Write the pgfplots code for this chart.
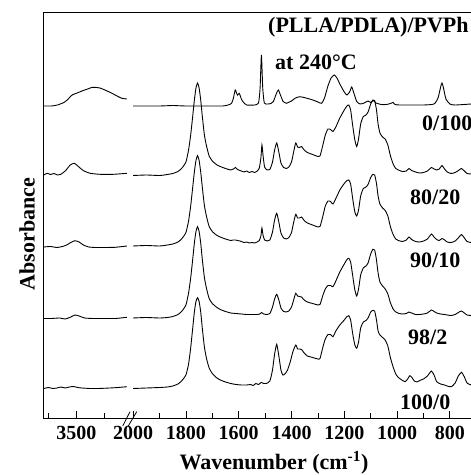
\documentclass[border=0pt]{standalone}
\usepackage{pgfplots}
\pgfplotsset{compat=1.18}
\usepackage{fontspec}
\setmainfont{Liberation Serif}
\begin{document}
\begin{tikzpicture}
\useasboundingbox (0pt,0pt) rectangle (471pt,475pt);
\pgfplotsset{
  spec/.style={black, line width=0.9pt, smooth, tension=0.35, mark=none},
  common/.style={scale only axis, anchor=south west, height=406pt,
    ymin=0, ymax=406, x dir=reverse, ytick=\empty, clip=false,
    tick align=inside, major tick length=7pt, minor tick length=5pt,
    every tick/.style={black, line width=0.8pt},
    axis line style={black, line width=0.8pt},
    xticklabel style={font=\fontsize{20}{24}\selectfont\bfseries, yshift=-5pt}}
}
% ---------- left panel ----------
\begin{axis}[common, at={(43pt,57pt)}, width=87.5pt, xmin=3305, xmax=3620,
  axis x line*=bottom, axis y line*=left,
  xtick={3500}, xticklabels={3500}, minor xtick={3600,3400}]
\addplot[spec] coordinates {(3618,312) (3590,312) (3568,313) (3545,315.5) (3533,318) (3515,323) (3497,325) (3480,327) (3462,328.7) (3445,330.5) (3432,330.7) (3415,330) (3403,328.7) (3385,326.5) (3367,324) (3350,321.5) (3336,319.7) (3318,319)};
\addplot[spec] coordinates {(3617,243) (3605,244.7) (3593,243.5) (3580,244.5) (3568,243) (3557,243.5) (3539,247.3) (3522,253) (3507,254.7) (3492,251.3) (3474,247.3) (3450,244.7) (3414,243.7) (3366,243.7) (3318,244.7)};
\addplot[spec] coordinates {(3617,171) (3593,171.5) (3570,170.5) (3550,171.5) (3535,173) (3520,175.5) (3505,177.3) (3490,176) (3475,173) (3455,171) (3430,170.5) (3400,170.5) (3360,170.7) (3318,172)};
\addplot[spec] coordinates {(3617,99.5) (3590,99.5) (3560,100) (3540,99) (3520,101) (3505,103) (3490,102) (3470,100) (3440,99.5) (3400,99.5) (3360,99.5) (3318,100.7)};
\addplot[spec] coordinates {(3617,29.5) (3600,30.5) (3585,29.5) (3570,30) (3555,31) (3540,30) (3525,31) (3510,31.5) (3495,30.5) (3480,30) (3450,29.5) (3420,29.5) (3380,30) (3350,30.5) (3318,31.3)};
\draw[black, line width=0.8pt] (rel axis cs:0,1) -- (rel axis cs:1,1);
\end{axis}
% ---------- right panel ----------
\begin{axis}[common, at={(130.5pt,57pt)}, width=340.5pt, xmin=720, xmax=2010,
  axis x line*=bottom, axis y line*=left, y axis line style={draw=none},
  xtick={2000,1800,1600,1400,1200,1000,800},
  xticklabels={2000,1800,1600,1400,1200,1000,800},
  minor xtick={1900,1700,1500,1300,1100,900}]
% 0/100
\addplot[spec] coordinates {(2000,312) (1900,312) (1850,312.5) (1800,312) (1700,312) (1660,312) (1640,313) (1627,314.7) (1620,320) (1613,328) (1605,323) (1598,324.7) (1590,319) (1583,316) (1570,313) (1540,313) (1525,315) (1519,330) (1514,363) (1509,330) (1503,315) (1490,314) (1478,314.5) (1469,316.3) (1458,324) (1450,328) (1442,323) (1432,316.5) (1425,315.3) (1419,314.7) (1400,317) (1385,320) (1368,321.3) (1345,320) (1319,318) (1300,316) (1286,314.7) (1275,320) (1262,332) (1250,340) (1238,343) (1228,340) (1215,333) (1200,326) (1190,323) (1180,326) (1172,331) (1165,326) (1153,316.5) (1140,314) (1125,315) (1110,317) (1100,315.5) (1090,317.5) (1080,315) (1060,313.5) (1040,313.5) (1025,314.5) (1015,315.5) (1008,313.5) (990,313) (950,313) (900,313) (860,314) (845,320) (835,331) (830,335) (825,331) (815,319) (800,314) (780,313) (720,314)};
% 80/20
\addplot[spec] coordinates {(2000,242.5) (1950,243) (1900,242.5) (1870,243.5) (1850,244.5) (1830,246.5) (1815,250) (1800,256) (1790,268) (1782,283) (1775,300) (1768,318) (1762,330) (1756,335) (1750,330) (1744,318) (1738,302) (1730,283) (1722,272) (1712,262) (1700,257) (1685,253.5) (1670,251.5) (1650,249.5) (1630,248) (1620,249) (1612,250.5) (1605,248.5) (1595,247.5) (1580,246) (1570,247) (1560,245.5) (1550,246.5) (1540,245.5) (1530,247) (1522,250) (1516,260) (1512,273) (1508,263) (1502,251) (1492,248) (1482,248.5) (1472,256) (1464,268) (1456,275) (1448,266) (1440,255) (1430,250.5) (1420,249.5) (1410,251) (1400,256) (1392,266) (1384,275) (1377,271) (1370,270.5) (1362,271.5) (1352,268) (1340,265.5) (1320,263.5) (1300,261.5) (1292,262) (1282,272) (1272,283) (1262,289) (1252,288.5) (1243,286.5) (1232,291) (1217,300) (1200,308) (1190,312) (1183,313) (1176,308) (1168,292) (1160,278) (1153,271.5) (1146,279) (1138,294) (1128,301.5) (1118,303) (1110,306) (1100,314) (1092,318) (1085,317.5) (1078,308) (1072,294) (1065,285) (1055,281) (1045,279) (1035,273) (1025,262) (1015,254) (1005,249.5) (995,248) (980,246.5) (965,247) (955,249.5) (945,247.5) (930,246) (915,245) (900,245.5) (885,247) (870,250.5) (860,249) (850,248) (840,249) (830,252.5) (820,249) (810,246) (795,244.5) (780,245.5) (765,248) (756,249.5) (745,247) (735,244.5) (720,244)};
% 90/10
\addplot[spec] coordinates {(2000,172) (1950,172.5) (1900,172) (1870,173) (1850,174) (1830,176) (1815,179.5) (1800,185.5) (1790,197) (1782,212) (1775,229) (1768,246) (1762,257.5) (1756,262.3) (1750,257.5) (1744,246) (1738,231) (1730,212.5) (1722,201.5) (1712,191.5) (1700,186.5) (1685,183) (1670,181) (1650,179) (1630,177.5) (1620,178) (1612,178) (1605,177.5) (1595,177) (1580,175.5) (1570,176) (1560,175) (1550,175.5) (1540,175) (1530,176) (1522,177.5) (1516,182) (1512,190) (1508,183) (1502,178) (1492,177) (1482,178) (1472,186) (1464,198) (1456,204.7) (1448,196) (1440,185) (1430,180) (1420,179) (1410,180.5) (1400,185.5) (1392,195.5) (1384,203.7) (1377,200) (1370,200) (1362,201) (1352,197.5) (1340,195) (1320,193) (1300,191) (1292,191.5) (1282,201) (1272,212) (1262,217) (1252,216.5) (1243,214) (1232,219.5) (1217,228) (1200,234.5) (1190,237.5) (1183,238) (1176,234) (1168,219) (1160,206) (1153,202) (1146,208) (1138,222) (1128,229.5) (1118,231) (1110,233.5) (1100,240.5) (1092,243.7) (1085,243) (1078,234.5) (1072,222) (1065,214) (1055,210) (1045,207.5) (1035,202) (1025,191) (1015,183.5) (1005,179) (995,177.5) (980,176.5) (965,178) (955,181) (945,178.5) (930,176.5) (915,176) (900,177) (885,179) (870,184) (860,181) (850,178.5) (840,177.5) (830,179.5) (820,178) (810,176) (795,175.5) (780,177) (765,181) (756,183.5) (745,180) (735,176.5) (720,175.5)};
% 98/2
\addplot[spec] coordinates {(2000,100) (1950,100.5) (1900,100) (1870,100.5) (1850,101.5) (1830,103.5) (1815,107) (1800,113) (1790,125) (1782,140) (1775,157) (1768,175) (1762,186.5) (1756,191.3) (1750,186.5) (1744,175) (1738,159) (1730,140.5) (1722,129.5) (1712,119.5) (1700,114.5) (1685,111) (1670,108.5) (1650,106.5) (1630,105) (1610,104.5) (1590,104) (1570,103.5) (1550,103.5) (1530,103.5) (1520,104) (1513,105.5) (1506,104) (1495,103.5) (1482,104.5) (1472,111) (1464,119) (1456,123.7) (1448,118) (1440,110) (1430,106.5) (1420,106) (1410,107) (1400,111) (1392,118) (1384,124.7) (1377,122) (1370,121.5) (1362,121) (1352,118) (1340,116) (1320,114.5) (1300,113) (1292,113.5) (1282,122) (1272,129) (1262,132.5) (1252,132.5) (1243,131.3) (1232,137) (1217,146) (1200,154) (1190,158.5) (1183,159.7) (1176,156) (1168,142) (1160,128) (1153,122) (1146,129) (1138,143) (1128,150) (1118,152) (1110,155) (1100,164) (1092,168.7) (1085,168) (1078,158) (1072,145) (1065,136) (1055,132) (1045,129) (1035,124) (1025,115) (1015,109) (1005,106) (995,104.7) (980,104) (965,104.5) (955,106) (945,105) (930,103.5) (915,103.5) (900,104) (885,105) (870,108) (860,106.5) (850,105) (835,104) (820,103.5) (810,103) (795,102.5) (780,103.5) (765,106) (756,107) (745,105) (735,103) (720,102.5)};
% 100/0
\addplot[spec] coordinates {(2000,29.5) (1950,30) (1900,30.5) (1870,31) (1850,32) (1830,34) (1815,37.5) (1800,43) (1790,54) (1782,70) (1775,88) (1768,106) (1762,116.5) (1756,120.3) (1750,116.5) (1744,106) (1738,90) (1730,71) (1722,59.5) (1712,50) (1700,44.5) (1685,40.5) (1670,38) (1650,36) (1630,34.5) (1610,33.5) (1590,33) (1570,33) (1555,33.5) (1545,32.5) (1535,34.5) (1525,33.5) (1515,35.5) (1505,34.5) (1495,34.5) (1482,37) (1472,48) (1464,64) (1456,73.7) (1448,62) (1440,48) (1433,43) (1425,44) (1415,48) (1405,56) (1395,66) (1384,73) (1377,69) (1370,69) (1362,68.5) (1352,65) (1340,62) (1320,60.5) (1300,59) (1292,59.5) (1282,70) (1272,79) (1262,83.5) (1252,83.5) (1243,81.3) (1232,87) (1217,93) (1200,98) (1190,101.5) (1183,102.3) (1176,98) (1168,84) (1160,73) (1153,69.7) (1146,76) (1138,90) (1128,96) (1118,97.5) (1110,100) (1100,106) (1092,107.7) (1085,107) (1078,98) (1072,87) (1065,83) (1055,80.5) (1045,78) (1035,72) (1025,60) (1015,51) (1005,44) (995,40.5) (985,38.5) (970,36.3) (960,39) (952,42.3) (945,41) (935,37) (925,36) (914,37.5) (900,39) (885,42) (870,47) (860,43) (850,36.3) (835,34) (820,33) (805,31.5) (794,31.3) (780,35) (768,42) (756,45.7) (745,41) (735,35) (720,33)};
\draw[black, line width=0.8pt] (rel axis cs:0,1) -- (rel axis cs:1,1);
\end{axis}
% axis break marks
\draw[black, line width=0.8pt] (122.7pt,49pt) -- (130pt,63.3pt);
\draw[black, line width=0.8pt] (128.3pt,49pt) -- (136.7pt,63.3pt);
% texts
\begin{scope}[every node/.style={font=\fontsize{22}{26}\selectfont\bfseries, inner sep=0pt}]
\node[rotate=90] at (27pt,241pt) {Absorbance};
\node at (274pt,12pt) {Wavenumber (cm\textsuperscript{-1})};
\node[anchor=west] at (268pt,448pt) {(PLLA/PDLA)/PVPh};
\node[anchor=west] at (275pt,413pt) {at 240°C};
\node[anchor=west] at (422pt,352pt) {0/100};
\node[anchor=west] at (410pt,277.5pt) {80/20};
\node[anchor=west] at (410pt,215pt) {90/10};
\node[anchor=west] at (408pt,138pt) {98/2};
\node[anchor=west] at (400pt,73pt) {100/0};
\end{scope}
\end{tikzpicture}
\end{document}
